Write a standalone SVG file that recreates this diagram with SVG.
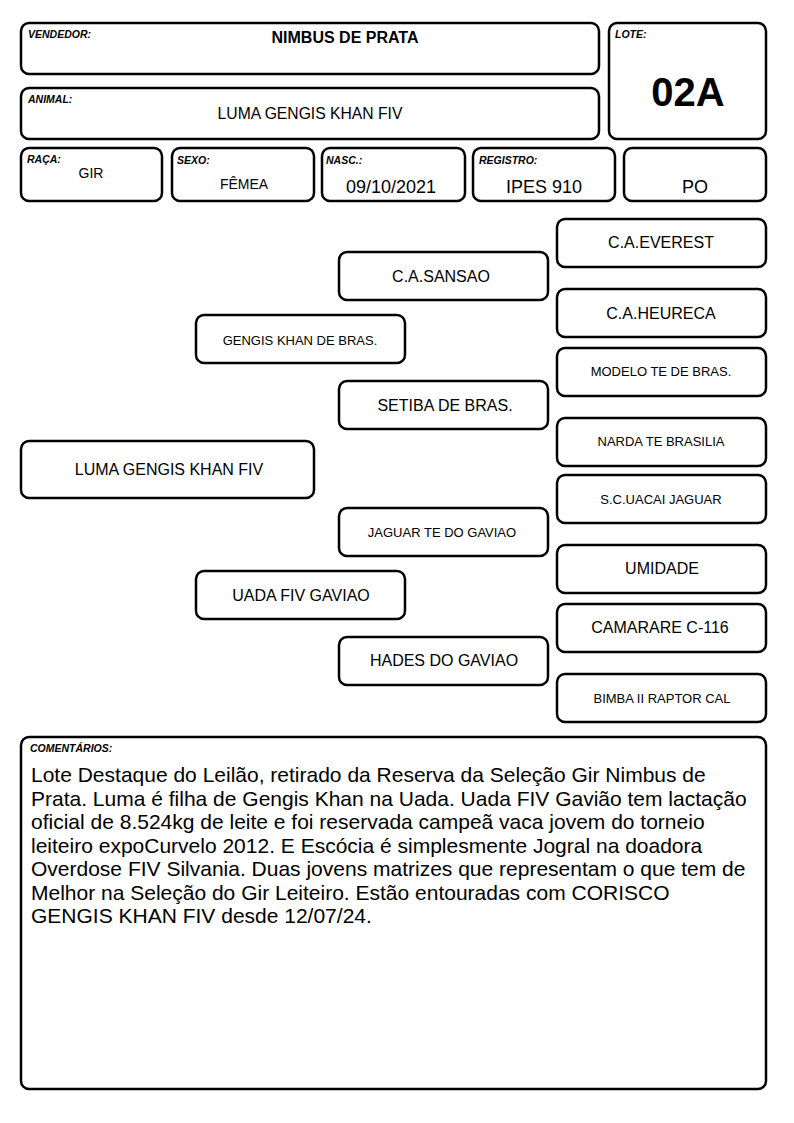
<svg xmlns="http://www.w3.org/2000/svg" width="794" height="1123" viewBox="0 0 794 1123">
<style>
rect{fill:#fff;stroke:#000;stroke-width:2.5}
text{font-family:"Liberation Sans",Arial,sans-serif;fill:#000}
.lb{font-size:10.5px;font-weight:bold;font-style:italic}
.c{text-anchor:middle}
.p{font-size:16px}
.s{font-size:13px}
.cm{font-size:21px}
</style>
<rect width="794" height="1123" style="fill:#fff;stroke:none"/>
<g id="vendedor"><rect x="21" y="23" width="578" height="51" rx="8"/><text class="lb" x="28" y="38">VENDEDOR:</text><text class="c" x="345" y="43" style="font-size:16px;font-weight:bold">NIMBUS DE PRATA</text></g>
<g id="lote"><rect x="609" y="23" width="157" height="116" rx="8"/><text class="lb" x="615" y="38">LOTE:</text><text class="c" x="688" y="106" style="font-size:40px;font-weight:bold">02A</text></g>
<g id="animal"><rect x="21" y="88" width="578" height="51" rx="8"/><text class="lb" x="28" y="103">ANIMAL:</text><text class="c" x="310" y="119" style="font-size:15.7px">LUMA GENGIS KHAN FIV</text></g>
<g id="raca"><rect x="21" y="148" width="141" height="53" rx="8"/><text class="lb" x="27" y="163">RAÇA:</text><text class="c" x="91" y="178" style="font-size:14px">GIR</text></g>
<g id="sexo"><rect x="172" y="148" width="142" height="53" rx="8"/><text class="lb" x="177" y="164">SEXO:</text><text class="c" x="244" y="189" style="font-size:14px">FÊMEA</text></g>
<g id="nasc"><rect x="322" y="148" width="143" height="53" rx="8"/><text class="lb" x="326" y="164">NASC.:</text><text class="c" x="391" y="193" style="font-size:18px">09/10/2021</text></g>
<g id="registro"><rect x="473" y="148" width="142" height="53" rx="8"/><text class="lb" x="479" y="164">REGISTRO:</text><text class="c" x="544" y="193" style="font-size:18px">IPES 910</text></g>
<g id="po"><rect x="624" y="148" width="142" height="53" rx="8"/><text class="c" x="695" y="193" style="font-size:18px">PO</text></g>
<g id="connectors"></g>
<g id="everest"><rect x="557" y="219" width="209" height="48" rx="8"/><text class="c p" x="661" y="248">C.A.EVEREST</text></g>
<g id="sansao"><rect x="339" y="252" width="209" height="48" rx="8"/><text class="c p" x="441" y="282">C.A.SANSAO</text></g>
<g id="heureca"><rect x="557" y="289" width="209" height="48" rx="8"/><text class="c p" x="661" y="319">C.A.HEURECA</text></g>
<g id="gengis"><rect x="196" y="315" width="209" height="48" rx="8"/><text class="c s" x="300" y="345">GENGIS KHAN DE BRAS.</text></g>
<g id="modelo"><rect x="557" y="348" width="209" height="48" rx="8"/><text class="c s" x="661" y="376">MODELO TE DE BRAS.</text></g>
<g id="setiba"><rect x="339" y="381" width="209" height="48" rx="8"/><text class="c p" x="445" y="411">SETIBA DE BRAS.</text></g>
<g id="narda"><rect x="557" y="418" width="209" height="48" rx="8"/><text class="c s" x="661" y="446">NARDA TE BRASILIA</text></g>
<g id="luma"><rect x="21" y="441" width="293" height="57" rx="8"/><text class="c p" x="169" y="475">LUMA GENGIS KHAN FIV</text></g>
<g id="uacai"><rect x="557" y="475" width="209" height="48" rx="8"/><text class="c s" x="661" y="504">S.C.UACAI JAGUAR</text></g>
<g id="jaguar"><rect x="339" y="508" width="209" height="48" rx="8"/><text class="c s" x="442" y="537">JAGUAR TE DO GAVIAO</text></g>
<g id="umidade"><rect x="557" y="545" width="209" height="48" rx="8"/><text class="c p" x="662" y="574">UMIDADE</text></g>
<g id="uada"><rect x="196" y="571" width="209" height="48" rx="8"/><text class="c p" x="301" y="601">UADA FIV GAVIAO</text></g>
<g id="camarare"><rect x="557" y="604" width="209" height="48" rx="8"/><text class="c p" x="660" y="633">CAMARARE C-116</text></g>
<g id="hades"><rect x="339" y="637" width="209" height="48" rx="8"/><text class="c p" x="444" y="666">HADES DO GAVIAO</text></g>
<g id="bimba"><rect x="557" y="674" width="209" height="48" rx="8"/><text class="c s" x="662" y="703">BIMBA II RAPTOR CAL</text></g>
<g id="comentarios"><rect x="21" y="737" width="745" height="352" rx="8"/><text class="lb" x="30" y="752">COMENTÁRIOS:</text>
<text class="cm" x="31" y="782">Lote Destaque do Leilão, retirado da Reserva da Seleção Gir Nimbus de</text>
<text class="cm" x="31" y="805.5">Prata. Luma é filha de Gengis Khan na Uada. Uada FIV Gavião tem lactação</text>
<text class="cm" x="31" y="829">oficial de 8.524kg de leite e foi reservada campeã vaca jovem do torneio</text>
<text class="cm" x="31" y="852.5">leiteiro expoCurvelo 2012. E Escócia é simplesmente Jogral na doadora</text>
<text class="cm" x="31" y="876">Overdose FIV Silvania. Duas jovens matrizes que representam o que tem de</text>
<text class="cm" x="31" y="899.5">Melhor na Seleção do Gir Leiteiro. Estão entouradas com CORISCO</text>
<text class="cm" x="31" y="923">GENGIS KHAN FIV desde 12/07/24.</text>
</g>
</svg>
